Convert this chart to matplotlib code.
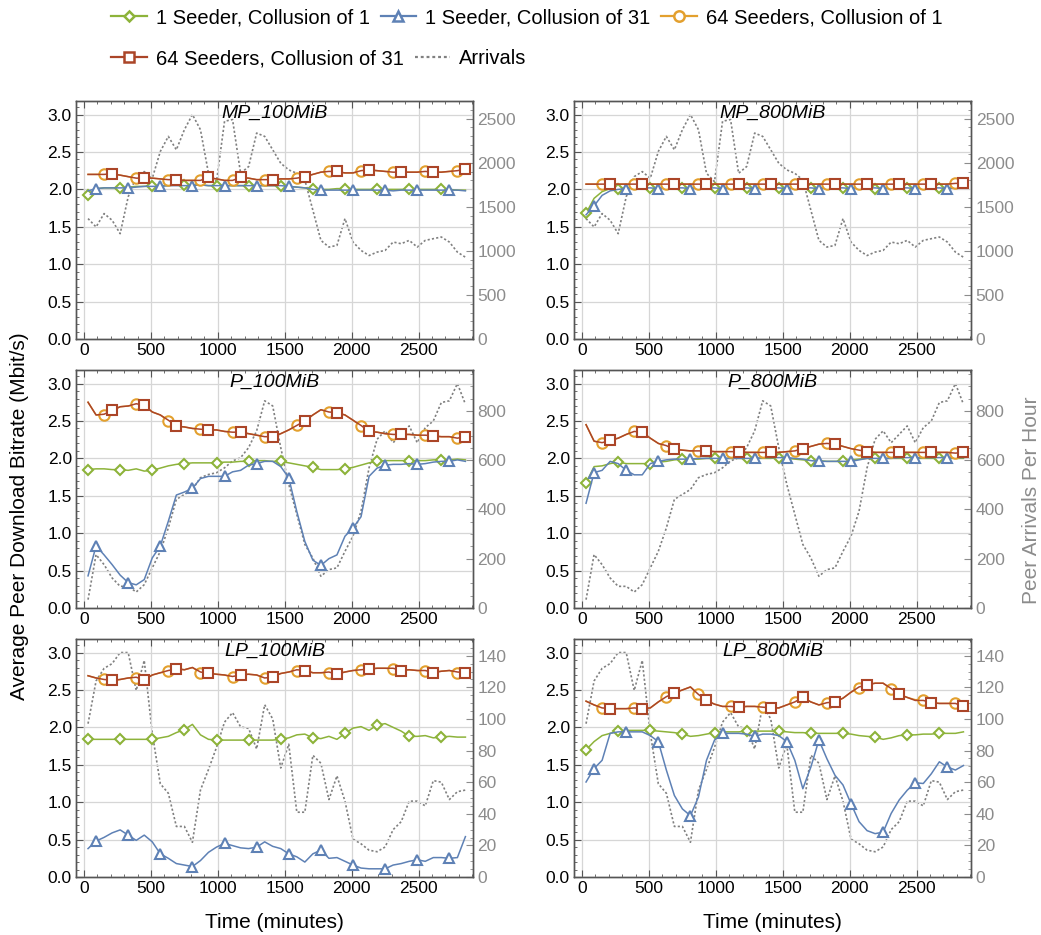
import numpy as np
import matplotlib
matplotlib.use("Agg")
from matplotlib import pyplot as plt
from matplotlib.lines import Line2D
from matplotlib.ticker import MultipleLocator

plt.rcParams['font.family'] = ['Liberation Sans', 'DejaVu Sans']

# sample times (minutes), one value per hour
time = list(range(30, 2851, 60))

# ---- peer arrivals per hour (same for 100MiB and 800MiB of one scenario)
arr_mp = [1366, 1271, 1423, 1347, 1195, 1613, 1842, 1899, 1823, 2127,
          2298, 2146, 2374, 2546, 2374, 1880, 1785, 2470, 2489, 1880,
          1956, 2336, 2298, 2146, 1994, 1918, 1880, 1804, 1461, 1119,
          1043, 1062, 1366, 1100, 1005, 947, 986, 1005, 1100, 1081,
          1119, 1043, 1119, 1138, 1157, 1100, 986, 928]
arr_p = [34, 217, 176, 122, 88, 88, 65, 95, 163, 230,
         325, 441, 461, 481, 529, 542, 549, 569, 597, 610,
         651, 719, 841, 820, 651, 502, 380, 258, 203, 129,
         156, 163, 230, 292, 393, 569, 685, 719, 671, 705,
         739, 671, 732, 759, 834, 841, 911, 827]
arr_lp = [97, 124, 132, 135, 142, 142, 118, 137, 91, 59,
          53, 32, 32, 22, 55, 68, 82, 98, 104, 95,
          94, 81, 109, 100, 69, 84, 41, 41, 77, 72,
          49, 64, 48, 24, 21, 17, 16, 19, 30, 35,
          48, 48, 45, 61, 60, 49, 54, 55]

# ---- MP_100MiB
mp100_s1_c1 = [1.93, 2.01, 2.02, 2.02, 2.02, 2.03, 2.04, 2.04, 2.05, 2.05,
               2.05, 2.06, 2.06, 2.06, 2.06, 2.05, 2.05, 2.05, 2.05, 2.05,
               2.05, 2.05, 2.05, 2.05, 2.05, 2.04, 2.03, 2.02, 2.01, 2.00,
               2.00, 2.01, 2.01, 2.00, 2.00, 2.00, 2.00, 2.00, 2.00, 2.00,
               2.00, 2.00, 2.00, 2.00, 2.00, 2.00, 1.99, 1.99]
mp100_s1_c31 = [1.98, 2.01, 2.02, 2.02, 2.02, 2.02, 2.03, 2.04, 2.04, 2.04,
                2.05, 2.05, 2.05, 2.05, 2.06, 2.05, 2.05, 2.05, 2.05, 2.05,
                2.05, 2.05, 2.05, 2.05, 2.05, 2.04, 2.03, 2.02, 2.00, 1.99,
                1.99, 1.99, 1.99, 1.99, 1.99, 1.99, 1.99, 1.99, 1.98, 1.99,
                1.99, 1.99, 1.99, 1.99, 1.99, 1.99, 1.99, 1.98]
mp100_s64_c1 = [2.20, 2.20, 2.20, 2.20, 2.19, 2.17, 2.15, 2.15, 2.15, 2.14,
                2.13, 2.13, 2.12, 2.12, 2.12, 2.15, 2.14, 2.12, 2.12, 2.15,
                2.15, 2.13, 2.13, 2.13, 2.14, 2.14, 2.15, 2.17, 2.20, 2.23,
                2.24, 2.23, 2.22, 2.22, 2.25, 2.26, 2.25, 2.24, 2.23, 2.23,
                2.23, 2.23, 2.24, 2.23, 2.23, 2.24, 2.25, 2.27]
mp100_s64_c31 = [2.20, 2.20, 2.20, 2.21, 2.19, 2.17, 2.15, 2.15, 2.15, 2.14,
                 2.13, 2.13, 2.12, 2.12, 2.12, 2.16, 2.14, 2.12, 2.12, 2.16,
                 2.15, 2.13, 2.13, 2.13, 2.14, 2.14, 2.15, 2.17, 2.20, 2.23,
                 2.24, 2.24, 2.22, 2.22, 2.25, 2.26, 2.25, 2.24, 2.23, 2.23,
                 2.23, 2.23, 2.24, 2.23, 2.23, 2.24, 2.25, 2.27]

# ---- MP_800MiB
mp800_s1_c1 = [1.68, 1.88, 1.97, 2.01, 2.01, 2.02, 2.02, 2.02, 2.02, 2.02,
               2.02, 2.02, 2.02, 2.02, 2.02, 2.02, 2.02, 2.02, 2.02, 2.02,
               2.02, 2.02, 2.02, 2.02, 2.02, 2.02, 2.02, 2.02, 2.02, 2.02,
               2.02, 2.02, 2.02, 2.02, 2.02, 2.02, 2.01, 2.02, 2.02, 2.02,
               2.02, 2.02, 2.02, 2.02, 2.02, 2.02, 2.02, 2.02]
mp800_s1_c31 = [1.66, 1.78, 1.92, 1.98, 2.00, 2.01, 2.02, 2.02, 2.02, 2.01,
                2.02, 2.02, 2.02, 2.01, 2.02, 2.02, 2.02, 2.01, 2.02, 2.02,
                2.02, 2.01, 2.02, 2.02, 2.02, 2.01, 2.02, 2.02, 2.02, 2.01,
                2.02, 2.02, 2.02, 2.01, 2.02, 2.02, 2.02, 2.01, 2.02, 2.02,
                2.02, 2.01, 2.02, 2.02, 2.02, 2.01, 2.02, 2.02]
mp800_s64_c1 = [2.07, 2.07, 2.07, 2.07, 2.07, 2.07, 2.07, 2.07, 2.07, 2.07,
                2.07, 2.07, 2.07, 2.07, 2.07, 2.07, 2.07, 2.07, 2.07, 2.07,
                2.07, 2.07, 2.07, 2.07, 2.07, 2.07, 2.07, 2.07, 2.07, 2.07,
                2.07, 2.07, 2.07, 2.07, 2.07, 2.07, 2.07, 2.07, 2.07, 2.07,
                2.07, 2.07, 2.07, 2.07, 2.07, 2.07, 2.08, 2.08]
mp800_s64_c31 = [2.07, 2.07, 2.07, 2.07, 2.07, 2.07, 2.07, 2.07, 2.07, 2.07,
                 2.07, 2.07, 2.07, 2.07, 2.07, 2.07, 2.07, 2.07, 2.07, 2.07,
                 2.07, 2.07, 2.07, 2.07, 2.07, 2.07, 2.07, 2.07, 2.07, 2.07,
                 2.07, 2.07, 2.07, 2.07, 2.07, 2.07, 2.07, 2.07, 2.07, 2.07,
                 2.07, 2.07, 2.07, 2.07, 2.07, 2.07, 2.08, 2.08]

# ---- P_100MiB
p100_s1_c1 = [1.85, 1.86, 1.86, 1.85, 1.85, 1.84, 1.86, 1.83, 1.84, 1.87,
              1.90, 1.92, 1.93, 1.94, 1.94, 1.94, 1.94, 1.95, 1.95, 1.96,
              1.96, 1.97, 1.97, 1.96, 1.96, 1.94, 1.92, 1.90, 1.88, 1.85,
              1.85, 1.85, 1.86, 1.88, 1.91, 1.94, 1.96, 1.97, 1.97, 1.97,
              1.97, 1.97, 1.97, 1.98, 1.98, 1.98, 1.99, 1.98]
p100_s1_c31 = [0.43, 0.83, 0.71, 0.58, 0.44, 0.34, 0.31, 0.38, 0.67, 0.83,
               1.16, 1.51, 1.55, 1.60, 1.73, 1.76, 1.76, 1.76, 1.82, 1.84,
               1.91, 1.93, 1.96, 1.96, 1.89, 1.74, 1.29, 0.89, 0.64, 0.57,
               0.66, 0.71, 0.96, 1.07, 1.22, 1.76, 1.87, 1.91, 1.92, 1.92,
               1.93, 1.92, 1.93, 1.95, 1.96, 1.96, 1.98, 1.96]
p100_s64_c1 = [2.75, 2.58, 2.58, 2.64, 2.69, 2.70, 2.72, 2.71, 2.62, 2.58,
               2.50, 2.43, 2.42, 2.40, 2.39, 2.38, 2.38, 2.36, 2.35, 2.35,
               2.33, 2.31, 2.29, 2.29, 2.33, 2.38, 2.44, 2.50, 2.58, 2.65,
               2.62, 2.61, 2.58, 2.51, 2.43, 2.36, 2.35, 2.33, 2.32, 2.32,
               2.32, 2.31, 2.31, 2.30, 2.29, 2.29, 2.27, 2.29]
p100_s64_c31 = [2.75, 2.58, 2.59, 2.64, 2.69, 2.70, 2.73, 2.71, 2.62, 2.58,
                2.51, 2.43, 2.42, 2.40, 2.39, 2.38, 2.38, 2.36, 2.35, 2.35,
                2.33, 2.31, 2.29, 2.29, 2.33, 2.38, 2.44, 2.50, 2.58, 2.65,
                2.62, 2.61, 2.58, 2.51, 2.44, 2.36, 2.35, 2.33, 2.32, 2.32,
                2.32, 2.31, 2.31, 2.30, 2.29, 2.29, 2.27, 2.29]

# ---- P_800MiB
p800_s1_c1 = [1.67, 1.89, 1.90, 1.93, 1.95, 1.93, 1.93, 1.93, 1.93, 1.95,
              1.96, 1.98, 1.99, 1.99, 1.99, 2.00, 2.00, 2.00, 2.00, 2.00,
              2.00, 2.00, 2.00, 2.00, 2.01, 2.00, 1.99, 1.98, 1.97, 1.97,
              1.96, 1.96, 1.96, 1.98, 1.99, 2.00, 2.00, 2.00, 2.00, 2.00,
              2.00, 2.00, 2.00, 2.00, 2.00, 2.00, 2.00, 2.00]
p800_s1_c31 = [1.40, 1.81, 1.84, 1.96, 1.93, 1.84, 1.78, 1.78, 1.93, 1.96,
               1.98, 1.99, 1.99, 1.99, 2.00, 2.00, 2.00, 2.00, 2.00, 2.00,
               2.00, 2.00, 2.01, 2.01, 2.01, 2.01, 2.00, 1.99, 1.97, 1.96,
               1.96, 1.96, 1.96, 1.96, 1.98, 2.00, 2.00, 2.00, 2.00, 2.01,
               2.01, 2.01, 2.01, 2.01, 2.01, 2.01, 2.01, 2.01]
p800_s64_c1 = [2.45, 2.23, 2.20, 2.24, 2.27, 2.32, 2.36, 2.35, 2.27, 2.20,
               2.16, 2.12, 2.11, 2.10, 2.10, 2.10, 2.09, 2.09, 2.09, 2.09,
               2.08, 2.08, 2.08, 2.08, 2.08, 2.09, 2.10, 2.13, 2.16, 2.19,
               2.21, 2.19, 2.16, 2.13, 2.11, 2.09, 2.08, 2.08, 2.08, 2.08,
               2.08, 2.08, 2.08, 2.08, 2.08, 2.08, 2.07, 2.08]
p800_s64_c31 = [2.45, 2.23, 2.21, 2.24, 2.27, 2.32, 2.36, 2.35, 2.27, 2.20,
                2.17, 2.12, 2.11, 2.10, 2.10, 2.10, 2.09, 2.09, 2.09, 2.09,
                2.08, 2.08, 2.08, 2.08, 2.08, 2.09, 2.10, 2.13, 2.16, 2.19,
                2.20, 2.19, 2.16, 2.13, 2.11, 2.09, 2.08, 2.08, 2.08, 2.08,
                2.08, 2.08, 2.08, 2.08, 2.08, 2.08, 2.07, 2.08]

# ---- LP_100MiB
lp100_s1_c1 = [1.84, 1.84, 1.84, 1.84, 1.84, 1.84, 1.84, 1.84, 1.84, 1.86,
               1.88, 1.93, 1.97, 2.04, 1.90, 1.84, 1.83, 1.83, 1.83, 1.83,
               1.83, 1.83, 1.83, 1.83, 1.84, 1.86, 1.90, 1.91, 1.86, 1.85,
               1.88, 1.84, 1.92, 1.99, 2.01, 1.96, 2.03, 2.05, 2.00, 1.95,
               1.88, 1.88, 1.89, 1.86, 1.87, 1.88, 1.87, 1.87]
lp100_s1_c31 = [0.38, 0.48, 0.53, 0.59, 0.63, 0.56, 0.49, 0.56, 0.47, 0.31,
                0.25, 0.18, 0.16, 0.14, 0.22, 0.33, 0.40, 0.45, 0.42, 0.39,
                0.38, 0.40, 0.47, 0.41, 0.38, 0.31, 0.27, 0.20, 0.31, 0.36,
                0.25, 0.26, 0.21, 0.16, 0.12, 0.11, 0.11, 0.11, 0.16, 0.18,
                0.21, 0.23, 0.21, 0.26, 0.26, 0.25, 0.26, 0.54]
lp100_s64_c1 = [2.69, 2.66, 2.65, 2.62, 2.64, 2.66, 2.66, 2.64, 2.70, 2.73,
                2.75, 2.79, 2.77, 2.80, 2.73, 2.73, 2.71, 2.70, 2.67, 2.71,
                2.71, 2.70, 2.66, 2.68, 2.72, 2.74, 2.76, 2.77, 2.73, 2.73,
                2.73, 2.72, 2.74, 2.76, 2.77, 2.78, 2.79, 2.79, 2.78, 2.77,
                2.77, 2.76, 2.75, 2.74, 2.75, 2.76, 2.73, 2.73]
lp100_s64_c31 = [2.69, 2.66, 2.64, 2.63, 2.64, 2.66, 2.67, 2.63, 2.70, 2.73,
                 2.76, 2.78, 2.77, 2.80, 2.74, 2.72, 2.71, 2.70, 2.68, 2.70,
                 2.71, 2.70, 2.66, 2.67, 2.72, 2.74, 2.77, 2.76, 2.73, 2.73,
                 2.74, 2.71, 2.74, 2.76, 2.77, 2.78, 2.79, 2.79, 2.79, 2.76,
                 2.77, 2.76, 2.76, 2.73, 2.75, 2.76, 2.74, 2.73]

# ---- LP_800MiB
lp800_s1_c1 = [1.70, 1.81, 1.89, 1.92, 1.95, 1.96, 1.96, 1.96, 1.96, 1.95,
               1.94, 1.93, 1.91, 1.88, 1.89, 1.91, 1.93, 1.94, 1.94, 1.94,
               1.95, 1.95, 1.95, 1.95, 1.95, 1.94, 1.93, 1.93, 1.92, 1.92,
               1.92, 1.92, 1.92, 1.91, 1.89, 1.88, 1.87, 1.84, 1.86, 1.89,
               1.90, 1.90, 1.91, 1.91, 1.92, 1.92, 1.92, 1.94]
lp800_s1_c31 = [1.27, 1.45, 1.56, 1.92, 1.94, 1.94, 1.94, 1.94, 1.89, 1.81,
                1.43, 1.09, 0.91, 0.82, 1.07, 1.56, 1.83, 1.92, 1.92, 1.92,
                1.91, 1.88, 1.91, 1.91, 1.89, 1.81, 1.56, 1.18, 1.47, 1.83,
                1.58, 1.36, 1.23, 0.98, 0.74, 0.62, 0.58, 0.60, 0.85, 1.03,
                1.16, 1.26, 1.25, 1.38, 1.54, 1.47, 1.43, 1.49]
lp800_s64_c1 = [2.35, 2.30, 2.26, 2.25, 2.25, 2.25, 2.26, 2.25, 2.26, 2.34,
                2.41, 2.46, 2.50, 2.54, 2.44, 2.36, 2.31, 2.28, 2.28, 2.27,
                2.28, 2.28, 2.27, 2.26, 2.26, 2.30, 2.34, 2.40, 2.34, 2.30,
                2.33, 2.34, 2.39, 2.47, 2.53, 2.57, 2.59, 2.59, 2.51, 2.44,
                2.40, 2.37, 2.37, 2.33, 2.32, 2.32, 2.32, 2.28]
lp800_s64_c31 = [2.35, 2.30, 2.26, 2.25, 2.25, 2.25, 2.26, 2.25, 2.26, 2.34,
                 2.41, 2.46, 2.50, 2.54, 2.44, 2.36, 2.31, 2.28, 2.28, 2.27,
                 2.28, 2.28, 2.27, 2.26, 2.26, 2.30, 2.34, 2.40, 2.34, 2.30,
                 2.33, 2.34, 2.39, 2.47, 2.54, 2.57, 2.59, 2.59, 2.52, 2.44,
                 2.40, 2.36, 2.36, 2.33, 2.32, 2.32, 2.32, 2.28]

titles = ["MP_100MiB", "MP_800MiB", "P_100MiB", "P_800MiB", "LP_100MiB", "LP_800MiB"]
panels = [
    (mp100_s1_c1, mp100_s1_c31, mp100_s64_c1, mp100_s64_c31, arr_mp),
    (mp800_s1_c1, mp800_s1_c31, mp800_s64_c1, mp800_s64_c31, arr_mp),
    (p100_s1_c1, p100_s1_c31, p100_s64_c1, p100_s64_c31, arr_p),
    (p800_s1_c1, p800_s1_c31, p800_s64_c1, p800_s64_c31, arr_p),
    (lp100_s1_c1, lp100_s1_c31, lp100_s64_c1, lp100_s64_c31, arr_lp),
    (lp800_s1_c1, lp800_s1_c31, lp800_s64_c1, lp800_s64_c31, arr_lp),
]
series_labels = ["1 Seeder, Collusion of 1", "1 Seeder, Collusion of 31",
                 "64 Seeders, Collusion of 1", "64 Seeders, Collusion of 31"]

# styling
colors = ["#8db33a", "#5e81b5", "#e3a02e", "#ab4528"]
markers = ["D", "^", "o", "s"]
msizes = [5.5, 7.5, 7.5, 7.5]
arr_color = "#808080"
frame_color = "#555555"
right_color = "#8c8c8c"
# right-axis tick steps per scenario row
right_steps = [(500, 100), (200, 50), (20, 5)]

fig = plt.figure(figsize=(10.41, 9.35), dpi=100)
lefts = [0.0730, 0.5514]
bottoms = [0.6374, 0.3497, 0.0620]
w, h = 0.3818, 0.2545
ytop = 3.18

for i, (title, data) in enumerate(zip(titles, panels)):
    row, col = divmod(i, 2)
    ax = fig.add_axes([lefts[col], bottoms[row], w, h])
    tw = ax.twinx()
    ax.set_zorder(tw.get_zorder() + 1)
    ax.patch.set_visible(False)

    arr = data[4]
    tw.plot(time, arr, color=arr_color, lw=1.2, ls=(0, (1.3, 1.3)))
    tw.set_ylim(0, max(arr) * ytop / 3.0)
    major, minor = right_steps[row]
    tw.yaxis.set_major_locator(MultipleLocator(major))
    tw.yaxis.set_minor_locator(MultipleLocator(minor))
    tw.tick_params(which='both', direction='in', colors=right_color,
                   labelsize=12.5, pad=3)
    tw.tick_params(which='major', length=5)
    tw.tick_params(which='minor', length=2.5)

    for k in range(4):
        ax.plot(time, data[k], color=colors[k], lw=1.1, marker=markers[k],
                ms=msizes[k], mfc='white', mec=colors[k], mew=1.5,
                markevery=(k, 4))

    ax.set_xlim(-60, 2910)
    ax.set_ylim(0, ytop)
    ax.xaxis.set_major_locator(MultipleLocator(500))
    ax.xaxis.set_minor_locator(MultipleLocator(100))
    ax.yaxis.set_major_locator(MultipleLocator(0.5))
    ax.yaxis.set_minor_locator(MultipleLocator(0.1))
    ax.yaxis.set_major_formatter(plt.FormatStrFormatter('%.1f'))
    ax.tick_params(which='both', direction='in', top=True, right=False,
                   color=frame_color, labelsize=12.5, pad=3)
    ax.tick_params(which='major', length=5)
    ax.tick_params(which='minor', length=2.5)
    ax.grid(True, which='major', color='#d6d6d6', lw=0.9)
    for a in (ax, tw):
        for s in a.spines.values():
            s.set_color(frame_color)
            s.set_linewidth(1.0)

    ax.text(0.5, 0.985, title, transform=ax.transAxes, ha='center', va='top',
            fontsize=14, style='italic')
    if row == 2:
        ax.set_xlabel("Time (minutes)", fontsize=15, labelpad=12)

fig.text(0.019, 0.448, "Average Peer Download Bitrate (Mbit/s)", rotation=90,
         ha='center', va='center', fontsize=15)
fig.text(0.991, 0.465, "Peer Arrivals Per Hour", rotation=90, ha='center',
         va='center', fontsize=15, color=right_color)

# legend, two rows as in the original
handles = [Line2D([], [], color=colors[k], lw=1.6, marker=markers[k],
                  ms=msizes[k], mfc='white', mec=colors[k], mew=1.8)
           for k in range(4)]
h_arr = Line2D([], [], color=arr_color, lw=1.6, ls=(0, (1.3, 1.3)))
leg_kw = dict(frameon=False, fontsize=14.5, handlelength=1.75,
              handletextpad=0.45, columnspacing=0.55, borderpad=0,
              borderaxespad=0, loc='center left')
fig.legend(handles[:3], series_labels[:3], ncol=3,
           bbox_to_anchor=(0.107, 0.981), **leg_kw)
fig.legend([handles[3], h_arr], [series_labels[3], "Arrivals"], ncol=2,
           bbox_to_anchor=(0.107, 0.937), **leg_kw)

plt.savefig("out.png", dpi=100)
